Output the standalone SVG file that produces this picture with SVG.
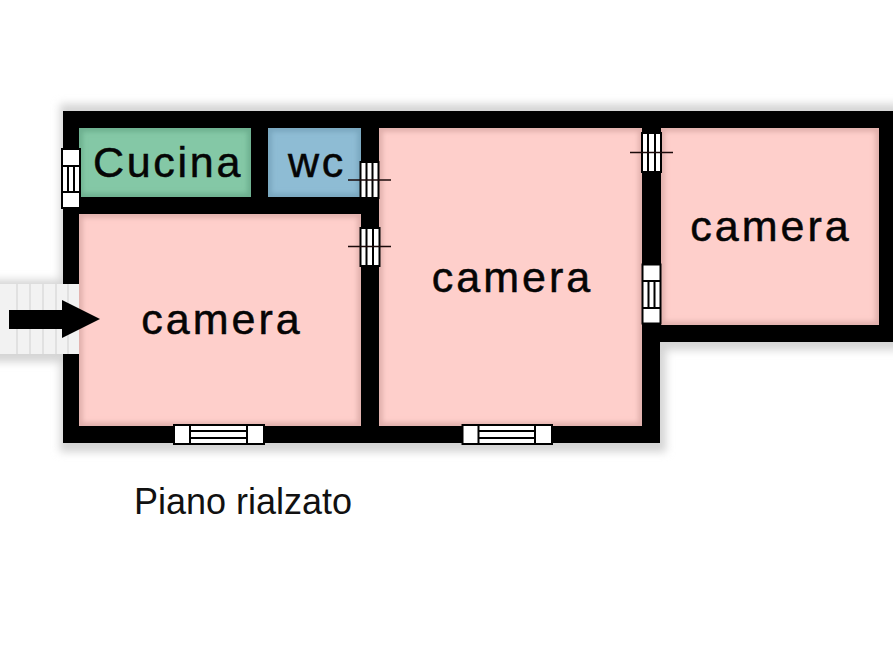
<svg xmlns="http://www.w3.org/2000/svg" width="893" height="670" viewBox="0 0 893 670">
<defs>
<style>
.wall{fill:#000}
.pink{fill:#fecfcb}
.edgeP{fill:none;stroke:#dfaeaa;stroke-width:7}
.edgeG{fill:none;stroke:#6cae8e;stroke-width:7}
.edgeB{fill:none;stroke:#78a6be;stroke-width:7}
.lbl{font-family:"Liberation Sans",Arial,sans-serif;fill:#050505;stroke:#050505;stroke-width:.5px;letter-spacing:3px;font-size:43px;text-anchor:middle}
.win{fill:#fff;stroke:#000;stroke-width:2}
.ln{stroke:#000;stroke-width:2;fill:none}
.tick{stroke:#1a0a0a;stroke-width:1.5;fill:none}
.stair{fill:none;stroke:#dcdcdc;stroke-width:1.5}
</style>
<filter id="soft" x="-5%" y="-5%" width="110%" height="110%"><feGaussianBlur stdDeviation="4"/></filter>
<filter id="s1" x="-5%" y="-5%" width="110%" height="110%"><feGaussianBlur stdDeviation="2.500"/></filter>
<clipPath id="cK"><rect x="79" y="128" width="172" height="69"/></clipPath>
<clipPath id="cW"><rect x="268" y="128" width="93" height="69"/></clipPath>
<clipPath id="cL"><rect x="79" y="214" width="282" height="212"/></clipPath>
<clipPath id="cC"><rect x="379" y="128" width="263" height="298"/></clipPath>
<clipPath id="cR"><rect x="661" y="128" width="218" height="197"/></clipPath>
</defs>
<rect width="893" height="670" fill="#fff"/>
<g id="shadow" filter="url(#soft)" fill="#d4d4d4">
<path d="M60 104H900V350H666V452H60Z"/>
<rect x="-10" y="280" width="94" height="82"/>
</g>
<g id="walls">
<path class="wall" d="M63 111H893V342H660V443H63Z"/>
</g>
<g id="stairs">
<rect x="0" y="284" width="80" height="70" fill="#f2f2f2"/>
<path class="stair" d="M17 284V354M30 284V354M43 284V354M56 284V354M68 284V354"/>
<path d="M80 284V354" stroke="#cfcfcf" stroke-width="1.500"/>
</g>
<g id="room-cucina">
<rect x="79" y="128" width="172" height="69" fill="#84c8a6"/>
<g clip-path="url(#cK)"><rect class="edgeG" x="79" y="128" width="172" height="69" filter="url(#s1)"/></g>
<text class="lbl" x="168" y="177" style="letter-spacing:2.7px">Cucina</text>
</g>
<g id="room-wc">
<rect x="268" y="128" width="93" height="69" fill="#8ebcd4"/>
<g clip-path="url(#cW)"><rect class="edgeB" x="268" y="128" width="93" height="69" filter="url(#s1)"/></g>
<text class="lbl" x="317" y="177" style="letter-spacing:2.7px">wc</text>
</g>
<g id="room-camera-left">
<rect class="pink" x="79" y="214" width="282" height="212"/>
<g clip-path="url(#cL)"><rect class="edgeP" x="79" y="214" width="282" height="212" filter="url(#s1)"/></g>
<text class="lbl" x="222" y="334">camera</text>
</g>
<g id="room-camera-center">
<rect class="pink" x="379" y="128" width="263" height="298"/>
<g clip-path="url(#cC)"><rect class="edgeP" x="379" y="128" width="263" height="298" filter="url(#s1)"/></g>
<text class="lbl" x="512.500" y="292">camera</text>
</g>
<g id="room-camera-right">
<rect class="pink" x="661" y="128" width="218" height="197"/>
<g clip-path="url(#cR)"><rect class="edgeP" x="661" y="128" width="218" height="197" filter="url(#s1)"/></g>
<text class="lbl" x="771" y="241">camera</text>
</g>
<g id="window-kitchen">
<rect class="win" x="62" y="149" width="18" height="59"/>
<path class="ln" d="M62 166H80M62 192H80M68 166V192M74 166V192"/>
</g>
<g id="door-wc">
<rect class="win" x="360.500" y="162" width="18" height="36"/>
<path class="ln" d="M366.500 162V198M372.500 162V198"/>
<path class="tick" d="M348 180H391"/>
</g>
<g id="door-camera-left">
<rect class="win" x="360.500" y="228" width="19" height="38"/>
<path class="ln" d="M366.500 228V266M373 228V266"/>
<path class="tick" d="M348 246.500H391"/>
</g>
<g id="door-camera-right">
<rect class="win" x="642" y="133" width="19" height="39"/>
<path class="ln" d="M648 133V172M655 133V172"/>
<path class="tick" d="M630 152.500H673"/>
</g>
<g id="window-right">
<rect class="win" x="642.500" y="264.500" width="18" height="59"/>
<path class="ln" d="M642.500 281H660.500M642.500 308H660.500M648.500 281V308M654.500 281V308"/>
</g>
<g id="window-bottom-left">
<rect class="win" x="174" y="425" width="90" height="19"/>
<path class="ln" d="M190 425V444M247 425V444M190 431H247M190 438H247"/>
</g>
<g id="window-bottom-center">
<rect class="win" x="462.500" y="425" width="89.500" height="19"/>
<path class="ln" d="M478.500 425V444M535 425V444M478.500 431H535M478.500 438H535"/>
</g>
<g id="connectors">
<path id="entry-arrow" fill="#000" d="M9 310H62V300L100 319L62 338V329H9Z"/>
</g>
<text x="243" y="514" text-anchor="middle" font-family="'Liberation Sans',Arial,sans-serif" font-size="36" fill="#111">Piano rialzato</text>
</svg>
